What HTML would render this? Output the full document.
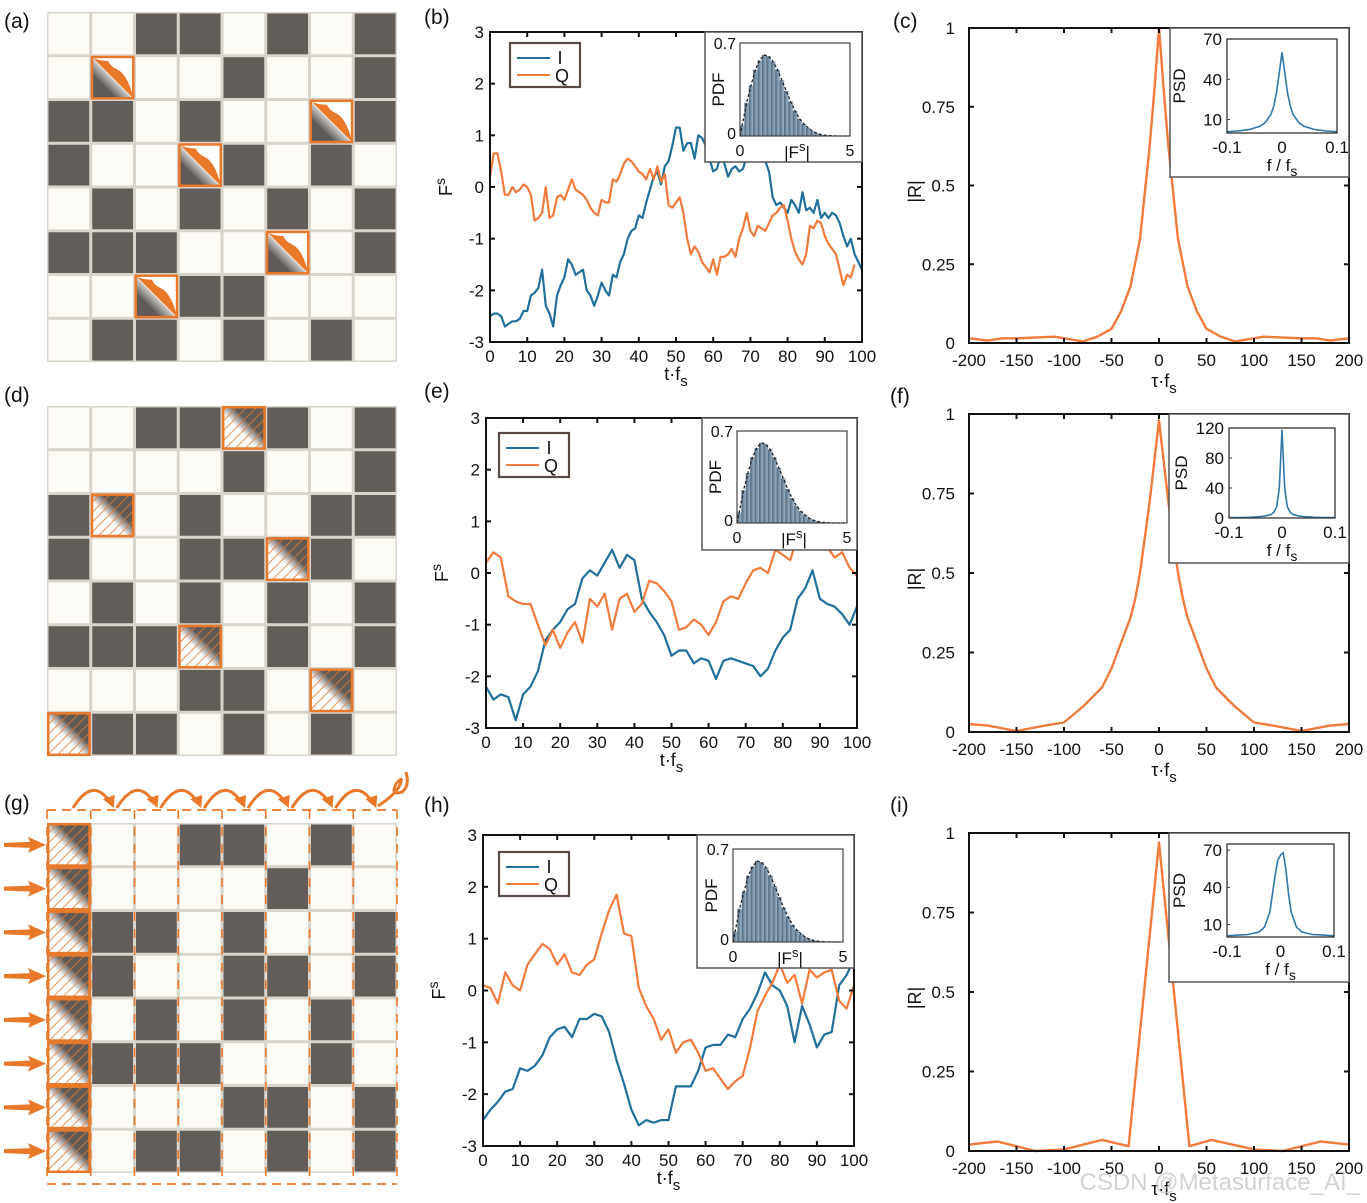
<!DOCTYPE html>
<html><head><meta charset="utf-8"><style>
html,body{margin:0;padding:0;background:#fff}
svg{display:block;font-family:"Liberation Sans",Arial,sans-serif}
</style></head><body>
<svg id="fig" width="1367" height="1203" viewBox="0 0 1367 1203" xmlns="http://www.w3.org/2000/svg">
<defs>
<pattern id="hatch" width="7" height="7" patternUnits="userSpaceOnUse" patternTransform="rotate(45)">
<line x1="0" y1="0" x2="0" y2="7" stroke="#e8782a" stroke-width="1.6"/></pattern>
<linearGradient id="diagD" x1="0" y1="1" x2="1" y2="0"><stop offset="0.42" stop-color="#fff"/><stop offset="0.62" stop-color="#5f5a56"/></linearGradient>
<linearGradient id="diagA" x1="0" y1="1" x2="1" y2="0"><stop offset="0.3" stop-color="#5f5a56"/><stop offset="0.48" stop-color="#c8c6c4"/><stop offset="0.5" stop-color="#fff"/></linearGradient>
<linearGradient id="histG" x1="0" y1="0" x2="1" y2="0"><stop offset="0" stop-color="#4e6376"/><stop offset="0.5" stop-color="#7b94aa"/><stop offset="1" stop-color="#9fb5c8"/></linearGradient>
</defs>
</svg>
<script>
// ---------- DATA ----------
const gridA = [
 [0,0,1,1,0,1,0,1],[0,2,0,0,1,0,0,1],[1,1,0,1,0,0,2,1],[1,0,0,2,1,0,1,0],
 [0,1,0,1,0,1,0,1],[1,1,1,0,0,2,0,1],[0,0,2,1,1,0,0,0],[0,1,1,0,1,0,1,0]];
const gridD = [
 [0,0,1,1,2,1,0,1],[0,0,0,0,1,0,0,1],[1,2,0,1,0,0,1,1],[1,0,0,1,1,2,1,0],
 [0,1,0,1,0,1,0,1],[1,1,1,2,0,1,0,1],[0,0,0,1,1,0,2,0],[2,1,1,0,1,0,1,0]];
const gridG = [
 [2,0,0,1,1,0,1,0],[2,0,0,0,0,1,0,0],[2,1,1,0,1,0,0,1],[2,1,0,0,1,1,0,1],
 [2,0,1,0,1,0,1,0],[2,1,1,1,0,0,1,0],[2,0,0,0,1,1,0,1],[2,0,1,1,0,1,0,1]];

const bI = [-2.5,-2.45,-2.45,-2.5,-2.7,-2.65,-2.6,-2.6,-2.55,-2.4,-2.4,-2.1,-2.05,-1.95,-1.6,-2.3,-2.45,-2.7,-2.1,-1.9,-1.75,-1.4,-1.5,-1.7,-1.65,-1.6,-2.0,-2.1,-2.3,-2.1,-1.85,-2.0,-2.1,-1.7,-1.75,-1.45,-1.3,-1.0,-0.85,-0.8,-0.55,-0.6,-0.3,-0.05,0.2,0.3,0.05,0.4,0.5,0.8,1.15,1.15,0.7,0.85,0.85,0.55,1.0,0.95,0.8,0.55,0.3,0.35,0.6,0.45,0.2,0.35,0.4,0.3,0.35,0.6,0.8,0.9,1.0,0.7,0.5,0.3,-0.2,-0.35,-0.3,-0.4,-0.5,-0.25,-0.35,-0.5,-0.1,-0.45,-0.4,-0.5,-0.25,-0.6,-0.5,-0.6,-0.5,-0.55,-0.7,-0.95,-1.15,-1.0,-1.3,-1.45,-1.6];
const bQ = [0.2,0.65,0.65,0.3,-0.15,-0.15,0.0,-0.1,-0.05,0.05,0.0,-0.15,-0.65,-0.6,-0.5,0.0,-0.6,-0.55,-0.2,-0.15,-0.25,-0.05,0.15,-0.05,-0.1,-0.15,-0.25,-0.4,-0.5,-0.55,-0.25,-0.3,-0.3,0.15,0.1,0.25,0.45,0.55,0.5,0.4,0.3,0.25,0.15,0.35,0.15,0.4,0.1,0.25,-0.35,-0.4,-0.3,-0.2,-0.5,-1.0,-1.3,-1.15,-1.25,-1.45,-1.55,-1.65,-1.4,-1.7,-1.35,-1.35,-1.3,-1.2,-1.35,-1.0,-0.8,-0.5,-0.85,-0.95,-0.75,-0.8,-0.85,-0.7,-0.55,-0.5,-0.4,-0.35,-0.65,-1.0,-1.25,-1.4,-1.5,-1.3,-0.75,-0.8,-0.65,-0.7,-0.95,-1.1,-1.2,-1.3,-1.6,-1.9,-1.7,-1.75,-1.5];
const eI = [-2.2,-2.45,-2.35,-2.4,-2.85,-2.35,-2.2,-1.9,-1.3,-1.1,-0.95,-0.7,-0.6,-0.1,0.05,-0.05,0.2,0.45,0.1,0.35,0.25,-0.5,-0.75,-0.95,-1.2,-1.6,-1.5,-1.5,-1.75,-1.65,-1.7,-2.05,-1.7,-1.65,-1.7,-1.75,-1.8,-2.0,-1.85,-1.5,-1.25,-1.1,-0.5,-0.3,0.05,-0.5,-0.6,-0.65,-0.8,-1.0,-0.65];
const eQ = [0.2,0.4,0.3,-0.45,-0.55,-0.6,-0.6,-1.0,-1.4,-1.1,-1.45,-1.15,-0.95,-1.35,-0.5,-0.65,-0.4,-1.1,-0.5,-0.4,-0.75,-0.6,-0.15,-0.2,-0.35,-0.55,-1.1,-1.05,-0.9,-1.0,-1.2,-0.95,-0.55,-0.45,-0.5,-0.2,0.05,0.1,0.0,0.45,0.35,0.25,0.7,0.6,0.55,0.6,0.5,0.3,0.4,0.1,-0.05];
const hI = [-2.5,-2.3,-2.15,-1.95,-1.9,-1.5,-1.55,-1.45,-1.25,-0.9,-0.75,-0.7,-0.9,-0.55,-0.55,-0.45,-0.5,-0.8,-1.35,-1.8,-2.3,-2.6,-2.5,-2.55,-2.5,-2.5,-1.85,-1.85,-1.85,-1.55,-1.1,-1.05,-1.05,-0.85,-0.9,-0.55,-0.35,-0.05,0.35,0.1,0.0,-0.3,-1.0,-0.3,-0.65,-1.1,-0.85,-0.8,0.1,0.3,0.6];
const hQ = [0.1,0.05,-0.25,0.35,0.1,0.0,0.5,0.7,0.9,0.8,0.5,0.7,0.35,0.3,0.5,0.6,1.1,1.55,1.85,1.1,1.05,0.05,-0.3,-0.55,-0.95,-0.75,-1.2,-1.0,-0.95,-1.2,-1.55,-1.5,-1.7,-1.9,-1.75,-1.65,-1.1,-0.4,-0.1,0.15,0.5,0.15,0.3,-0.25,0.4,0.25,0.35,0.4,-0.2,-0.35,0.1];
const tStepB = 1, tStepE = 2, tStepH = 2;
const tTicks = [0,10,20,30,40,50,60,70,80,90,100];
const fTicks = [-3,-2,-1,0,1,2,3];

const pdfBins = [0.08,0.25,0.38,0.5,0.57,0.61,0.6,0.56,0.5,0.42,0.34,0.26,0.19,0.13,0.09,0.06,0.035,0.02,0.01,0.005,0.003,0.001,0,0,0];
const pdfBinWidth = 0.2;

const tauC = [-200,-180,-165,-150,-110,-80,-65,-50,-40,-30,-20,-10,-5,0,5,10,20,30,40,50,65,80,110,150,165,180,200];
const rC   = [0.015,0.008,0.015,0.015,0.02,0.005,0.02,0.045,0.1,0.18,0.33,0.62,0.8,1.0,0.8,0.62,0.33,0.18,0.1,0.045,0.02,0.005,0.02,0.015,0.015,0.008,0.015];
const tauF = [-200,-180,-150,-120,-100,-80,-60,-50,-40,-30,-25,-20,-10,0,10,20,25,30,40,50,60,80,100,120,150,180,200];
const rF   = [0.025,0.02,0.003,0.02,0.03,0.08,0.14,0.2,0.28,0.36,0.42,0.5,0.72,0.98,0.72,0.5,0.42,0.36,0.28,0.2,0.14,0.08,0.03,0.02,0.003,0.02,0.025];
const tauI = [-200,-170,-130,-100,-60,-32,0,32,55,100,130,170,200];
const rI   = [0.02,0.03,0.0,0.005,0.035,0.015,0.97,0.015,0.035,0.005,0.0,0.03,0.02];
const tauTicks = [-200,-150,-100,-50,0,50,100,150,200];

const psdFreq = [-0.1,-0.08,-0.06,-0.04,-0.03,-0.02,-0.015,-0.01,-0.005,0,0.005,0.01,0.015,0.02,0.03,0.04,0.06,0.08,0.1];
const psdC = [1,1.5,2.5,5,8,14,20,30,45,60,45,30,20,14,8,5,2.5,1.5,1];
const psdF = [0.5,0.7,1,2,3,5,8,15,40,118,40,15,8,5,3,2,1,0.7,0.5];
const psdI = [1,1.5,2,4,8,20,35,50,62,66,68,55,35,20,8,4,2,1.5,1];

// ---------- HELPERS ----------
const NS = "http://www.w3.org/2000/svg";
const svg = document.getElementById('fig');
function mk(tag, attrs, parent){ const e=document.createElementNS(NS,tag); for(const k in attrs) e.setAttribute(k,attrs[k]); (parent||svg).appendChild(e); return e; }
function txt(x,y,s,size,anchor,parent,extra){ const t=mk('text',Object.assign({x:x,y:y,'font-size':size,'text-anchor':anchor||'middle',fill:'#111'},extra||{}),parent); t.textContent=s; return t; }

const ORANGE='#f07b3c', BLUE='#21709c', DARK='#625d58', LIGHT='#fdfbf5', GAP='#d9d5cc', OR='#e8782a';

// panel labels
[['(a)',4,28],['(b)',424,24],['(c)',893,28],['(d)',4,402],['(e)',424,398],['(f)',890,403],['(g)',4,810],['(h)',424,812],['(i)',890,812]].forEach(p=>{
  const t=txt(p[1],p[2],p[0],21,'start');
  
  
});

// ---------- GRIDS ----------
function drawGrid(grid, x0, y0, size, kind, name){
  const g=mk('g',{});
  
  
  const cs=size/8;
  mk('rect',{x:x0,y:y0,width:size,height:size,fill:GAP},g);
  for(let r=0;r<8;r++)for(let c=0;c<8;c++){
    const v=grid[r][c], x=x0+c*cs, y=y0+r*cs;
    if(v<2){
      const cell=mk('rect',{x:x+1.5,y:y+1.5,width:cs-3,height:cs-3,fill:v?DARK:LIGHT},g);
      
      
    } else {
      const sg=mk('g',{},g);
      
      
      if(kind==='a'){
        mk('rect',{x:x,y:y,width:cs,height:cs,fill:'url(#diagA)'},sg);
        mk('path',{d:`M${x+2} ${y+2} L${x+cs-1} ${y+cs-1} Q${x+cs*0.85} ${y+cs*0.45} ${x+cs*0.62} ${y+cs*0.32} Q${x+cs*0.45} ${y+cs*0.25} ${x+cs*0.4} ${y+cs*0.12} Q${x+cs*0.2} ${y+cs*0.12} ${x+2} ${y+2}Z`,fill:OR},sg);
      } else {
        mk('rect',{x:x,y:y,width:cs,height:cs,fill:'url(#diagD)'},sg);
        mk('rect',{x:x,y:y,width:cs,height:cs,fill:'url(#hatch)'},sg);
      }
      mk('rect',{x:x+1.2,y:y+1.2,width:cs-2.4,height:cs-2.4,fill:'none',stroke:OR,'stroke-width':2.5},sg);
    }
  }
}
drawGrid(gridA,47,12,350,'a','metasurface-grid-a');
drawGrid(gridD,47,406,350,'d','metasurface-grid-d');
drawGrid(gridG,47,823,350,'d','metasurface-grid-g');

// grid g decorations
(function(){
  const g=mk('g',{});
  
  
  const cs=350/8, x0=47;
  mk('line',{x1:x0,y1:810,x2:397,y2:810,stroke:OR,'stroke-width':1.8,'stroke-dasharray':'9,6'},g);
  mk('line',{x1:x0,y1:1184,x2:397,y2:1184,stroke:OR,'stroke-width':1.8,'stroke-dasharray':'9,6'},g);
  for(let c=0;c<=8;c++){
    const x=x0+c*cs;
    mk('line',{x1:x,y1:810,x2:x,y2:1184,stroke:OR,'stroke-width':1.6,'stroke-dasharray':'9,8'},g);
  }
  for(let c=0;c<7;c++){
    const xs=x0+c*cs+26, xe=x0+(c+1)*cs+22;
    mk('path',{d:`M${xs} 808 Q${(xs+xe)/2} 776 ${xe-3} 802`,fill:'none',stroke:OR,'stroke-width':3},g);
    mk('path',{d:`M${xe-10} 799 L${xe+1} 808 L${xe+2} 795Z`,fill:OR},g);
  }
  mk('path',{d:'M378 806 Q395 795 400 785 Q404 774 396 784 Q390 796 402 792 Q410 786 406 772',fill:'none',stroke:OR,'stroke-width':3},g);
  for(let r=0;r<8;r++){
    const y=823+r*cs+cs/2;
    const a=mk('path',{d:`M4 ${y-2} L30 ${y-3} L28 ${y-8} L46 ${y} L28 ${y+8} L30 ${y+3} L4 ${y+2}Z`,fill:OR},g);
    
    
  }
})();

// ---------- AXES HELPERS ----------
function frameTicks(g, L,T,R,B, xt, yt, sx, sy, len){
  mk('rect',{x:L,y:T,width:R-L,height:B-T,fill:'none',stroke:'#111','stroke-width':2},g);
  xt.forEach(v=>{const x=sx(v); mk('line',{x1:x,y1:B,x2:x,y2:B-len,stroke:'#111','stroke-width':2},g); mk('line',{x1:x,y1:T,x2:x,y2:T+len,stroke:'#111','stroke-width':2},g);});
  yt.forEach(v=>{const y=sy(v); mk('line',{x1:L,y1:y,x2:L+len,y2:y,stroke:'#111','stroke-width':2},g); mk('line',{x1:R,y1:y,x2:R-len,y2:y,stroke:'#111','stroke-width':2},g);});
}
function pathFrom(xs, ys, sx, sy){ return xs.map((x,i)=>(i?'L':'M')+sx(x).toFixed(1)+' '+sy(ys[i]).toFixed(1)).join(' '); }

function drawPdfInset(g, box, inner, name){
  const ig=mk('g',{},g);
  
  
  mk('rect',{x:box[0],y:box[1],width:box[2]-box[0],height:box[3]-box[1],fill:'#fff',stroke:'#555','stroke-width':1.5},ig);
  const [L,T,R,B]=inner;
  const sx=v=>L+(v/5)*(R-L), sy=v=>B-(v/0.7)*(B-T);
  pdfBins.forEach((h,i)=>{
    const b=mk('rect',{x:sx(i*pdfBinWidth),y:sy(h),width:sx(pdfBinWidth)-L+0.3,height:B-sy(h),fill:'url(#histG)'},ig);
    
    
  });
  const cx=pdfBins.map((h,i)=>(i+0.5)*pdfBinWidth);
  mk('path',{d:'M'+L+' '+B+' '+pathFrom(cx,pdfBins,sx,sy).replace('M','L'),fill:'none',stroke:'#222','stroke-width':1.3,'stroke-dasharray':'3,2'},ig);
  mk('rect',{x:L,y:T,width:R-L,height:B-T,fill:'none',stroke:'#444','stroke-width':1.2},ig);
  txt(L-4,T+6,'0.7',16,'end',ig); txt(L-4,B+3,'0',16,'end',ig);
  txt(sx(0),B+20,'0',16,'middle',ig); txt(sx(5),B+20,'5',16,'middle',ig);
  const xl=txt((L+R)/2+2,B+22,'|F',17,'middle',ig); const ts=mk('tspan',{dy:-7,'font-size':13},xl); ts.textContent='s'; const t2=mk('tspan',{dy:7},xl); t2.textContent='|';
  txt(0,0,'PDF',17,'middle',ig,{transform:`translate(${L-16},${(T+B)/2}) rotate(-90)`});
}

function drawTimeChart(id, L,T,R,B, I, Q, step, legend, inset, inner){
  const g=mk('g',{});
  
  
  const sx=v=>L+(v/100)*(R-L), sy=v=>B-((v+3)/6)*(B-T);
  const xs=a=>a.map((_,i)=>i*step);
  const pI=mk('path',{d:pathFrom(xs(I),I,sx,sy),fill:'none',stroke:BLUE,'stroke-width':2.2,'stroke-linejoin':'round'},g);
   
  const pQ=mk('path',{d:pathFrom(xs(Q),Q,sx,sy),fill:'none',stroke:ORANGE,'stroke-width':2.2,'stroke-linejoin':'round'},g);
   
  frameTicks(g,L,T,R,B,tTicks,fTicks,sx,sy,5);
  tTicks.forEach(v=>txt(sx(v),B+20,String(v),17,'middle',g));
  fTicks.forEach(v=>txt(L-6,sy(v)+6,String(v),17,'end',g));
  const xl=txt((L+R)/2,B+38,'t·f',18,'middle',g); const s=mk('tspan',{dy:6,'font-size':15},xl); s.textContent='s';
  const yl=txt(0,0,'F',18,'middle',g,{transform:`translate(${L-38},${(T+B)/2}) rotate(-90)`}); const s2=mk('tspan',{dy:-7,'font-size':14},yl); s2.textContent='s';
  const lg=mk('g',{},g);
   
  const [lx,ly]=legend;
  mk('rect',{x:lx,y:ly,width:70,height:44,fill:'#fff',stroke:'#5a4a44','stroke-width':2.2},lg);
  mk('line',{x1:lx+7,y1:ly+15,x2:lx+40,y2:ly+15,stroke:BLUE,'stroke-width':2},lg);
  mk('line',{x1:lx+7,y1:ly+32,x2:lx+40,y2:ly+32,stroke:ORANGE,'stroke-width':2},lg);
  txt(lx+50,ly+21,'I',18,'middle',lg); txt(lx+52,ly+39,'Q',18,'middle',lg);
  drawPdfInset(g, inset, inner, 'pdf-inset-'+id);
}
drawTimeChart('b',490,32,862,342,bI,bQ,tStepB,[510,43],[705,32,862,162],[740,43,850,136]);
drawTimeChart('e',486,418,857,728,eI,eQ,tStepE,[499,433],[702,418,857,550],[737,431,847,523]);
drawTimeChart('h',483,835,854,1146,hI,hQ,tStepH,[499,852],[697,835,854,968],[733,849,843,942]);

function drawCorrChart(id, L,T,R,B, tau, r, box, inner, psd, psdMax, psdTicks){
  const g=mk('g',{});
  
  
  const sx=v=>L+((v+200)/400)*(R-L), sy=v=>B-v*(B-T);
  const p=mk('path',{d:pathFrom(tau,r,sx,sy),fill:'none',stroke:ORANGE,'stroke-width':2.4,'stroke-linejoin':'round'},g);
   
  const yt=[0,0.25,0.5,0.75,1];
  frameTicks(g,L,T,R,B,tauTicks,yt,sx,sy,5);
  tauTicks.forEach(v=>txt(sx(v),B+23,String(v),17,'middle',g));
  yt.forEach(v=>txt(L-14,sy(v)+6,String(v),17,'end',g));
  const xl=txt((L+R)/2+5,B+44,'τ·f',18,'middle',g); const s=mk('tspan',{dy:6,'font-size':15},xl); s.textContent='s';
  txt(0,0,'|R|',18,'middle',g,{transform:`translate(${L-48},${(T+B)/2+6}) rotate(-90)`});
  const ig=mk('g',{},g);
   
  mk('rect',{x:box[0],y:box[1],width:box[2]-box[0],height:box[3]-box[1],fill:'#fff',stroke:'#555','stroke-width':1.5},ig);
  const [il,it,ir,ib]=inner;
  const fx=v=>il+((v+0.1)/0.2)*(ir-il), fy=v=>ib-(v/psdMax)*(ib-it);
  const pp=mk('path',{d:pathFrom(psdFreq,psd,fx,fy),fill:'none',stroke:'#2f78a8','stroke-width':1.6},ig);
   
  mk('rect',{x:il,y:it,width:ir-il,height:ib-it,fill:'none',stroke:'#333','stroke-width':1.3},ig);
  psdTicks.forEach(v=>{txt(il-5,fy(v)+6,String(v),17,'end',ig); mk('line',{x1:il,y1:fy(v),x2:il+3,y2:fy(v),stroke:'#333'},ig);});
  [-0.1,0,0.1].forEach(v=>txt(fx(v),ib+20,String(v),17,'middle',ig));
  const fl=txt((il+ir)/2,ib+38,'f / f',17,'middle',ig); const s3=mk('tspan',{dy:5,'font-size':14},fl); s3.textContent='s';
  txt(0,0,'PSD',17,'middle',ig,{transform:`translate(${il-42},${(it+ib)/2}) rotate(-90)`});
}
drawCorrChart('c',969,28,1349,343,tauC,rC,[1170,28,1349,177],[1227,39,1337,133],psdC,70,[10,40,70]);
drawCorrChart('f',969,414,1349,732,tauF,rF,[1169,414,1349,563],[1229,428,1335,518],psdF,120,[0,40,80,120]);
drawCorrChart('i',969,833,1349,1151,tauI,rI,[1169,833,1349,982],[1227,844,1334,937],psdI,75,[10,40,70]);

const wm=txt(1360,1190,'CSDN @Metasurface_AI_',24,'end',svg,{fill:'#c8c8c8','fill-opacity':0.8});


</script>
</body></html>
